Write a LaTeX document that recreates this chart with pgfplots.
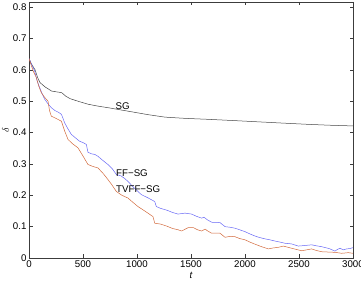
\documentclass[border=0pt]{standalone}
\usepackage{fontspec}
\setmainfont{Liberation Sans}
\usepackage{pgfplots}
\pgfplotsset{compat=1.18}

\definecolor{sgcol}{RGB}{70,70,70}
\definecolor{ffcol}{RGB}{105,105,245}
\definecolor{tvcol}{RGB}{210,105,60}
\definecolor{axcol}{RGB}{60,60,60}

\begin{document}
\begin{tikzpicture}
\begin{axis}[
  name=ax,
  scale only axis,
  width=324pt, height=256pt,
  xmin=0, xmax=3000, ymin=0, ymax=0.816,
  xtick={0,500,...,3000},
  ytick={0,0.1,...,0.8},
  tick align=inside,
  major tick length=3.5pt,
  axis line style={axcol, line width=0.6pt},
  tick style={axcol, line width=0.5pt},
  scaled ticks=false,
  /pgf/number format/1000 sep={},
  /pgf/number format/assume math mode=true,
  yticklabel style={/pgf/number format/fixed, /pgf/number format/precision=1, xshift=1pt},
  tick label style={font=\fontsize{9.7}{11}\selectfont},
  xticklabel style={yshift=0.5pt},
  xlabel={\fontsize{9.7}{11}\selectfont\itshape t},
  ylabel={$\delta$},
  xlabel style={yshift=3pt},
  ylabel style={yshift=-3pt},
  every axis plot/.append style={line width=0.5pt},
]
\addplot[sgcol] coordinates {
(0,0.636) (20,0.620) (56,0.600) (80,0.575) (102,0.559) (150,0.545) (210,0.532)
(303,0.527) (340,0.516) (380,0.508) (460,0.499) (549,0.490) (640,0.484)
(734,0.479) (850,0.472) (951,0.466) (1100,0.457) (1259,0.449) (1450,0.445)
(1660,0.442) (1900,0.438) (2123,0.434) (2350,0.430) (2586,0.426) (2800,0.423)
(3000,0.421)
};
\addplot[ffcol] coordinates {
(0,0.636) (20,0.620) (52,0.596) (75,0.565) (99,0.543) (120,0.525) (145,0.506)
(175,0.492) (207,0.479) (240,0.470) (270,0.465) (300,0.458) (315,0.445)
(330,0.431) (360,0.412) (392,0.394) (430,0.383) (469,0.372) (500,0.368)
(531,0.362) (546,0.337) (580,0.332) (610,0.330) (639,0.324) (680,0.312)
(731,0.298) (770,0.285) (809,0.266) (850,0.262) (880,0.255) (917,0.244)
(960,0.228) (1000,0.215) (1040,0.202) (1100,0.192) (1164,0.180) (1179,0.164)
(1220,0.158) (1280,0.152) (1330,0.145) (1380,0.140) (1444,0.143) (1506,0.140)
(1550,0.133) (1599,0.127) (1620,0.130) (1650,0.122) (1691,0.114) (1768,0.113)
(1815,0.100) (1860,0.098) (1907,0.095) (1950,0.090) (2000,0.084) (2050,0.076)
(2108,0.068) (2150,0.064) (2185,0.061) (2230,0.058) (2278,0.054) (2320,0.051)
(2370,0.047) (2430,0.045) (2494,0.038) (2560,0.040) (2617,0.042) (2660,0.039)
(2710,0.036) (2780,0.030) (2833,0.022) (2860,0.028) (2880,0.031) (2910,0.026)
(2941,0.029) (2970,0.030) (3000,0.033)
};
\addplot[tvcol] coordinates {
(0,0.636) (20,0.615) (40,0.595) (68,0.575) (90,0.548) (114,0.527) (145,0.512)
(176,0.500) (190,0.470) (207,0.452) (250,0.445) (300,0.436) (330,0.405)
(361,0.378) (400,0.365) (454,0.351) (500,0.325) (546,0.298) (590,0.292)
(639,0.287) (690,0.268) (731,0.250) (770,0.232) (809,0.212) (860,0.200)
(917,0.191) (960,0.178) (1009,0.164) (1080,0.148) (1148,0.132) (1164,0.111)
(1220,0.108) (1280,0.101) (1330,0.094) (1380,0.090) (1413,0.086) (1475,0.097)
(1521,0.097) (1560,0.090) (1599,0.086) (1630,0.092) (1660,0.085) (1691,0.079)
(1768,0.079) (1815,0.066) (1860,0.069) (1907,0.068) (1950,0.062) (2000,0.058)
(2050,0.050) (2093,0.044) (2154,0.036) (2216,0.029) (2260,0.032) (2308,0.034)
(2355,0.038) (2400,0.034) (2432,0.031) (2480,0.027) (2525,0.023) (2570,0.026)
(2617,0.029) (2660,0.024) (2710,0.020) (2770,0.019) (2833,0.018) (2895,0.015)
(2957,0.017) (3000,0.015)
};
\node[anchor=west, inner sep=0pt, font=\fontsize{9.7}{11}\selectfont] at (axis cs:800,0.484) {SG};
\node[anchor=west, inner sep=0pt, font=\fontsize{9.7}{11}\selectfont] at (axis cs:806,0.272) {FF\textminus SG};
\node[anchor=west, inner sep=0pt, font=\fontsize{9.7}{11}\selectfont] at (axis cs:806,0.218) {TVFF\textminus SG};
\end{axis}
\pgfresetboundingbox
\path ([shift={(-29pt,-25pt)}]ax.south west) rectangle ([shift={(8pt,2pt)}]ax.north east);
\end{tikzpicture}
\end{document}
